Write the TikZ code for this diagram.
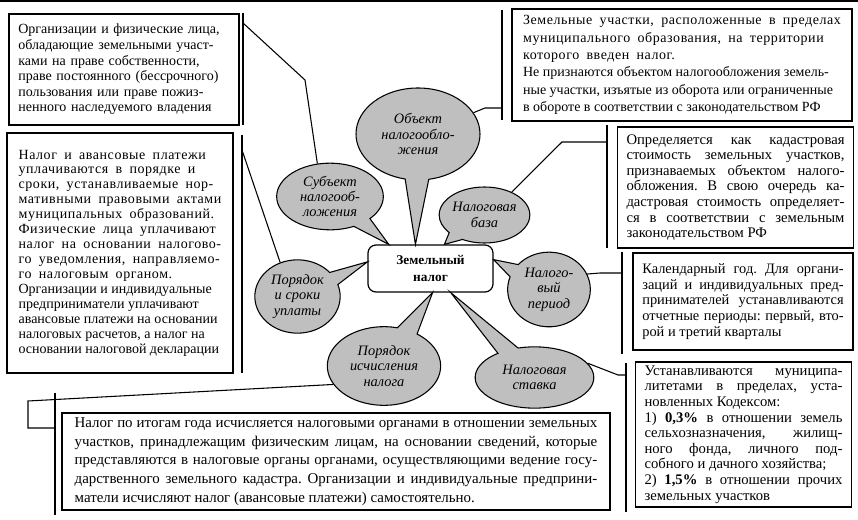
\documentclass[tikz,border=0pt]{standalone}
\usepackage{fontspec}
\setmainfont{Liberation Serif}
\newfontfamily\wideserif[LetterSpace=4,WordSpace=1.8]{Liberation Serif}
\usetikzlibrary{shapes.callouts}
\hyphenpenalty=10000
\frenchspacing

\begin{document}
\begin{tikzpicture}[x=0.75pt,y=-0.75pt,
    infobox/.style={draw,line width=0.9pt,fill=white,inner xsep=7pt,inner ysep=0pt,
      font=\fontsize{10.5}{11.7}\selectfont},
    bubble/.style={ellipse callout,draw,line width=0.8pt,fill=black!25,inner sep=0pt,
      callout pointer arc=22,align=center,font=\fontsize{10.8}{11.5}\selectfont\itshape},
    bar/.style={line width=0.8pt}]
  \useasboundingbox (0,0) rectangle (858,520);
  \draw[line width=1.2pt] (0,1) -- (858,1);

  % central node
  \node[draw,rounded corners=6pt,line width=0.9pt,fill=white,minimum width=93.75pt,
    minimum height=35.25pt,align=center,font=\fontsize{10}{12.5}\selectfont\bfseries]
    (zn) at (430.5,268.5) {Земельный\\налог};

  % bubbles round it
  \node[bubble,minimum width=93pt,minimum height=69pt,callout absolute pointer={(zn.122)}]
    (ob) at (418,134) {Объект\\налогообло-\\жения};
  \node[bubble,minimum width=80pt,minimum height=50pt,callout absolute pointer={(zn.150)}]
    (sb) at (330,196.5) {Субъект\\налогооб-\\ложения};
  \node[bubble,minimum width=66pt,minimum height=42pt,callout absolute pointer={(zn.60)}]
    (bs) at (484.5,215) {Налоговая\\база};
  \node[bubble,minimum width=62pt,minimum height=56pt,callout absolute pointer={(zn.8)}]
    (pd) at (549,289.5) {Налого-\\вый\\период};
  \node[bubble,minimum width=89pt,minimum height=46pt,callout absolute pointer={(zn.-50)}]
    (rt) at (534.5,377.5) {Налоговая\\ставка};
  \node[bubble,minimum width=85pt,minimum height=59pt,callout absolute pointer={(zn.-85)}]
    (ca) at (384,366) {Порядок\\исчисления\\налога};
  \node[bubble,minimum width=64pt,minimum height=55pt,callout absolute pointer={(zn.174)}]
    (po) at (297.5,296.5) {Порядок\\и сроки\\уплаты};

  % text boxes
  \node[infobox,text width=158.5pt,minimum height=83.25pt,align=left] (sbox) at (124,69.5)
    {Организации и физические лица,\\
     обладающие земельными участ-\\
     ками на праве собственности,\\
     праве постоянного (бессрочного)\\
     пользования или праве пожиз-\\
     ненного наследуемого владения};
  \node[infobox,minimum width=255pt,minimum height=84pt,align=left,
    font=\fontsize{10.5}{13}\selectfont] (obox) at (682,65)
    {{\wideserif Земельные участки, расположенные в пределах}\\
     {\wideserif муниципального образования, на территории}\\
     {\wideserif которого введен налог.}\\
     Не признаются объектом налогообложения земель-\\
     ные участки, изъятые из оборота или ограниченные\\
     в обороте в соответствии с законодательством РФ};
  \node[infobox,minimum width=169.5pt,minimum height=180pt,align=left,
    font=\fontsize{10.5}{11.2}\selectfont] (pbox) at (120,253)
    {{\wideserif Налог и авансовые платежи}\\
     {\wideserif уплачиваются в порядке и}\\
     {\wideserif сроки, устанавливаемые нор-}\\
     {\wideserif мативными правовыми актами}\\
     {\wideserif муниципальных образований.}\\
     {\wideserif Физические лица уплачивают}\\
     {\wideserif налог на основании налогово-}\\
     {\wideserif го уведомления, направляемо-}\\
     {\wideserif го налоговым органом.}\\
     Организации и индивидуальные\\
     предприниматели уплачивают\\
     авансовые платежи на основании\\
     налоговых расчетов, а налог на\\
     основании налоговой декларации};
  \node[infobox,text width=163.5pt,minimum height=90.75pt,align=justify,
    font=\fontsize{11}{11.7}\selectfont] (bbox) at (735.5,187.5)
    {Определяется как кадастровая\linebreak
     стоимость земельных участков,\linebreak
     признаваемых объектом налого-\linebreak
     обложения. В свою очередь ка-\linebreak
     дастровая стоимость определяет-\linebreak
     ся в соответствии с земельным\linebreak
     законодательством РФ};
  \node[infobox,text width=151pt,minimum height=72.75pt,align=justify,
    font=\fontsize{10.8}{11.8}\selectfont] (dbox) at (743,301.5)
    {Календарный год. Для органи-\linebreak
     заций и индивидуальных пред-\linebreak
     принимателей устанавливаются\linebreak
     отчетные периоды: первый, вто-\linebreak
     рой и третий кварталы};
  \node[infobox,text width=148.5pt,minimum height=108.75pt,align=justify,
    font=\fontsize{11}{11.7}\selectfont] (rbox) at (743.5,434.5)
    {Устанавливаются муниципа-\linebreak
     литетами в пределах, уста-\linebreak
     новленных Кодексом:\\
     1) \textbf{0,3\%} в отношении земель\linebreak
     сельхозназначения, жилищ-\linebreak
     ного фонда, личного под-\linebreak
     собного и дачного хозяйства;\\
     2) \textbf{1,5\%} в отношении прочих\linebreak
     земельных участков};
  \node[infobox,text width=392pt,inner xsep=9.5pt,minimum height=72.75pt,align=justify,
    font=\fontsize{11.2}{14}\selectfont] (cbox) at (336,461.5)
    {Налог по итогам года исчисляется налоговыми органами в отношении земельных\linebreak
     участков, принадлежащим физическим лицам, на основании сведений, которые\linebreak
     представляются в налоговые органы органами, осуществляющими ведение госу-\linebreak
     дарственного земельного кадастра. Организации и индивидуальные предприни-\linebreak
     матели исчисляют налог (авансовые платежи) самостоятельно.};

  % brackets beside the boxes
  \draw[bar] (243,13) -- (243,125);
  \draw[bar] (242,135) -- (242,373);
  \draw[bar] (502,10) -- (502,120);
  \draw[bar] (607,125) -- (607,248);
  \draw[bar] (622,252) -- (622,354);
  \draw[bar] (626,363) -- (626,512);
  \draw[bar] (55,393) -- (55,515);

  % links from brackets to bubbles
  \coordinate (k1) at (243,23);
  \coordinate (k2) at (242,150);
  \coordinate (k3) at (502,108);
  \coordinate (k4) at (607,142);
  \coordinate (k5) at (622,273);
  \coordinate (k6) at (626,375);
  \coordinate (k7) at (55,428);
  \draw[bar] (k1) -- (305,80) -- (sb.111);
  \draw[bar] (k2) -- (po.117);
  \draw[bar] (k3) -- (485,108) -- (ob.21);
  \draw[bar] (k4) -- (562,142) -- (bs.40);
  \draw[bar] (k5) -- (600,273) -- (pd.22);
  \draw[bar] (k6) -- (618,375) -- (rt.15);
  \draw[bar] (k7) -- (28,428) -- (28,401) -- (ca.200);
\end{tikzpicture}
\end{document}
